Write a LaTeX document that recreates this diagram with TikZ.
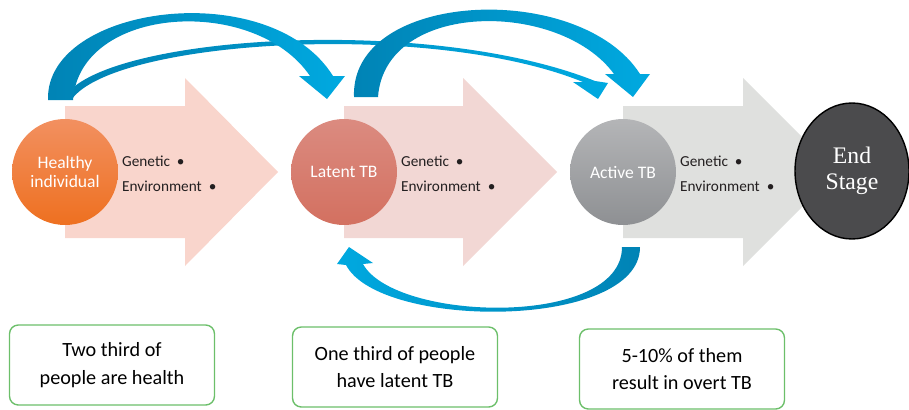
\documentclass[tikz,border=0pt]{standalone}
\usepackage{fontspec}
\setmainfont{Carlito}
\newfontfamily\endfont{Liberation Serif}
\usetikzlibrary{shapes.geometric}
\definecolor{healthytop}{HTML}{F29060}
\definecolor{healthybot}{HTML}{EE7020}
\definecolor{latenttop}{HTML}{DB8B80}
\definecolor{latentbot}{HTML}{D37060}
\definecolor{activetop}{HTML}{B4B5B7}
\definecolor{activebot}{HTML}{8E9093}
\definecolor{arrowone}{HTML}{F9D5CC}
\definecolor{arrowtwo}{HTML}{F2D7D4}
\definecolor{arrowthree}{HTML}{DFE0DE}
\definecolor{blueA}{HTML}{0083B5}
\definecolor{blueB}{HTML}{00A9E0}
\definecolor{notegreen}{HTML}{6CBF6A}
\definecolor{endgrey}{HTML}{4B4B4D}
\definecolor{factortext}{HTML}{231F20}
\begin{document}
\begin{tikzpicture}
        [x=0.02cm, y=-0.02cm,
        stage/.style={circle, inner sep=0pt, minimum size=2.12cm, text=white, align=center, font=\fontsize{10}{11}\selectfont},
        factors/.style={anchor=west, align=left, text=factortext, font=\fontsize{8.7}{14.2}\selectfont},
        note/.style={draw=notegreen, line width=0.8pt, rounded corners=5pt, minimum width=4.1cm, minimum height=1.6cm, align=center, font=\fontsize{11.5}{15.5}\selectfont},
        bluearrow/.style={left color=blueA, right color=blueB, draw=none},
        bluearrowback/.style={left color=blueB, right color=blueA, draw=none},]

        \useasboundingbox (0,0) rectangle (909,409);

        % big block arrows
        \fill[arrowone] (65,106) -- (185,106) -- (185,78) -- (278,172) -- (185,266) -- (185,238) -- (65,238) -- cycle;
        \fill[arrowtwo] (344,106) -- (463,106) -- (463,78) -- (557,172) -- (463,266) -- (463,238) -- (344,238) -- cycle;
        \fill[arrowthree] (623,106) -- (743,106) -- (743,78) -- (837,172) -- (743,266) -- (743,238) -- (623,238) -- cycle;

        % stages
        \node[stage, top color=healthytop, bottom color=healthybot] (healthy) at (65,172) {Healthy\\individual};
        \node[stage, top color=latenttop, bottom color=latentbot] (latent) at (344,172) {Latent TB};
        \node[stage, top color=activetop, bottom color=activebot] (active) at (623,172) {Active TB};
        \node[ellipse, draw=black, line width=0.8pt, fill=endgrey, minimum width=2.28cm, minimum height=2.72cm, inner sep=0pt,
              text=white, align=center, font=\endfont\fontsize{13.5}{15}\selectfont] (endstage) at (852,171) {End\\Stage};

        \node[factors] (f1) at (116,174) {Genetic\hspace{2pt} •\\Environment\hspace{2pt} •};
        \node[factors] (f2) at (395,174) {Genetic\hspace{2pt} •\\Environment\hspace{2pt} •};
        \node[factors] (f3) at (674,174) {Genetic\hspace{2pt} •\\Environment\hspace{2pt} •};

        % blue curved arrows
        \shade[bluearrow] (66,95) .. controls (110,35) and (430,15) .. (595,81) -- (608,83) -- (598,99) -- (573,82) -- (583,82) .. controls (430,20) and (115,40) .. (72,99) -- cycle;
        \shade[bluearrow] (48,100) .. controls (45,5) and (270,-25) .. (333,76) -- (345,76) -- (327,99) -- (299,76) -- (310,76) .. controls (255,-5) and (80,5) .. (73,100) -- cycle;
        \shade[bluearrow] (354,97) .. controls (350,-10) and (580,-20) .. (640,74) -- (650,74) -- (633,97) -- (605,74) -- (614,74) .. controls (560,0) and (385,0) .. (378,97) -- cycle;
        \shade[bluearrowback] (640,247) .. controls (640,330) and (380,330) .. (346,265) -- (337,264) -- (349,247) -- (373,263) -- (363,264) .. controls (395,322) and (622,328) .. (622,247) -- cycle;

        % notes
        \node[note] (n1) at (112,365) {Two third of\\people are health};
        \node[note] (n2) at (395,367) {One third of people\\have latent TB};
        \node[note] (n3) at (682,369) {5-10\% of them\\result in overt TB};

\end{tikzpicture}
\end{document}
